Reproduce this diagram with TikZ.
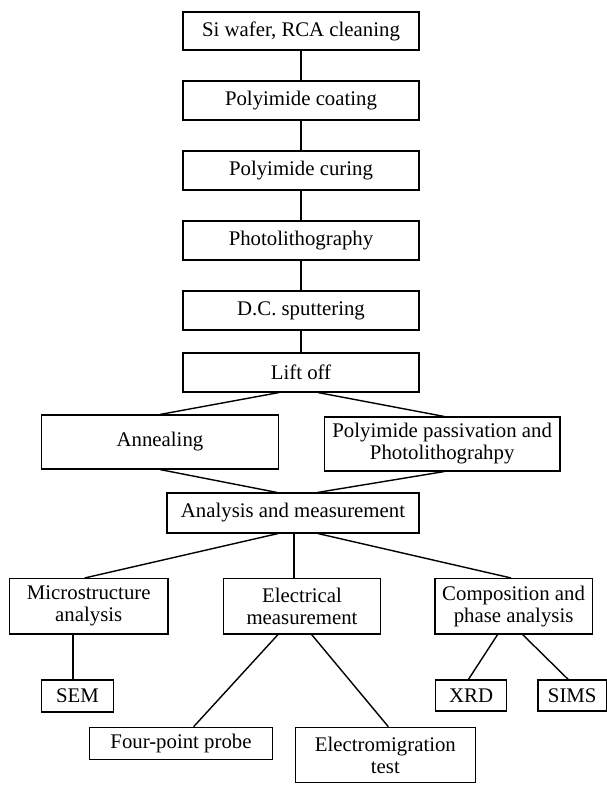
\documentclass[tikz,border=0pt]{standalone}
\usepackage{fontspec}
\setmainfont{Liberation Serif}
\begin{document}
\begin{tikzpicture}[x=1pt,y=-1pt,
  box/.style={draw, line width=1.1pt, inner sep=0pt, align=center,
    font=\fontsize{20.8}{22}\selectfont},
  link/.style={line width=1.4pt}]
\useasboundingbox (0,0) rectangle (607,785);
\node[box, minimum width=236, minimum height=38] (A) at (301,31) {Si wafer, RCA cleaning};
\node[box, minimum width=236, minimum height=39] (B) at (301,100.5) {Polyimide coating};
\node[box, minimum width=236, minimum height=39] (C) at (301,170.5) {Polyimide curing};
\node[box, minimum width=236, minimum height=39] (D) at (301,240.5) {Photolithography};
\node[box, minimum width=236, minimum height=39] (E) at (301,310.5) {D.C. sputtering};
\node[box, minimum width=236, minimum height=39] (F) at (301,372.5) {Lift off};
\node[box, minimum width=237, minimum height=54] (G) at (160,442) {Annealing};
\node[box, minimum width=235.5, minimum height=54] (H) at (442.2,444) {Polyimide passivation and\\Photolithograhpy};
\node[box, minimum width=252, minimum height=40] (I) at (293,513) {Analysis and measurement};
\node[box, minimum width=158.5, minimum height=55.5] (J) at (88.75,606.25) {Microstructure\\analysis};
\node[box, minimum width=157, minimum height=55.5] (K) at (302,606.25) {Electrical\\measurement};
\node[box, minimum width=157.3, minimum height=55.5] (L) at (513.6,606.25) {Composition and\\phase analysis};
\node[box, minimum width=72, minimum height=32] (M) at (77.5,696) {SEM};
\node[box, minimum width=71, minimum height=31] (N) at (471.1,695.5) {XRD};
\node[box, minimum width=68.5, minimum height=31] (O) at (572.25,695.5) {SIMS};
\node[box, minimum width=182.4, minimum height=32] (P) at (181,743.3) {Four-point probe};
\node[box, minimum width=180, minimum height=55.4] (Q) at (385.4,755) {Electromigration\\test};
\draw[link] (A) -- (B);
\draw[link] (B) -- (C);
\draw[link] (C) -- (D);
\draw[link] (D) -- (E);
\draw[link] (E) -- (F);
\draw[link] ([xshift=-22pt]F.south) -- (G.north);
\draw[link] ([xshift=17pt]F.south) -- ([xshift=2pt]H.north);
\draw[link] (G.south) -- ([xshift=-16pt]I.north);
\draw[link] ([xshift=2pt]H.south) -- ([xshift=24.5pt]I.north);
\draw[link] ([xshift=-15pt]I.south) -- ([xshift=-4pt]J.north);
\draw[link] ([xshift=1pt]I.south) -- ([xshift=1pt]I.south |- K.north);
\draw[link] ([xshift=25pt]I.south) -- ([xshift=-2.6pt]L.north);
\draw[link] ([xshift=-15.75pt]J.south) -- ([xshift=-15.75pt]J.south |- M.north);
\draw[link] ([xshift=-24pt]K.south) -- ([xshift=12.6pt]P.north);
\draw[link] ([xshift=9.6pt]K.south) -- ([xshift=3pt]Q.north);
\draw[link] ([xshift=-16pt]L.south) -- ([xshift=-2.7pt]N.north);
\draw[link] ([xshift=9pt]L.south) -- ([xshift=-4pt]O.north);
\end{tikzpicture}
\end{document}
